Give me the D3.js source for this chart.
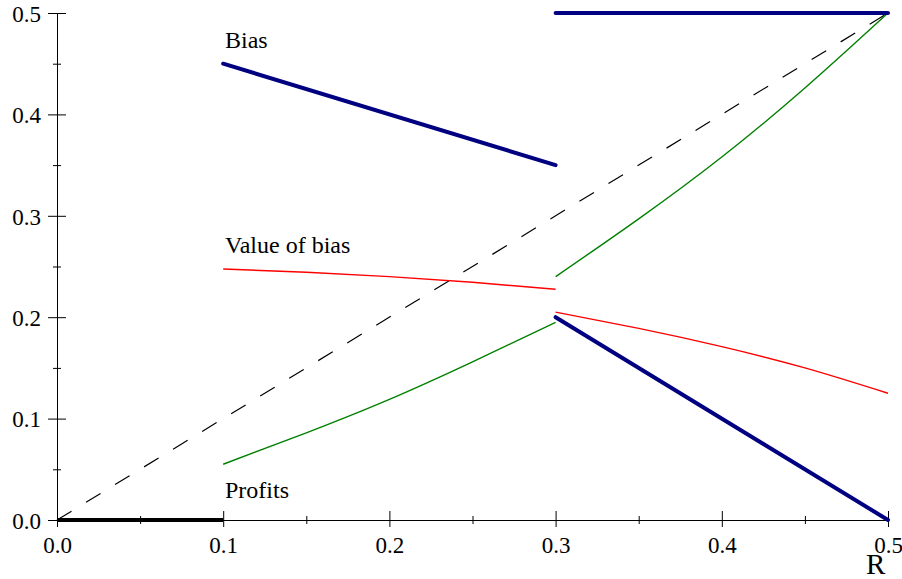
<!DOCTYPE html>
<html lang="en">
<head>
    <meta charset="UTF-8">
    <title>Bias and value of bias against R</title>
    <script src="https://cdn.jsdelivr.net/npm/d3@7"></script>
    <style>
        body { margin: 0; background: #fff; }
        svg text {
            font-family: "Liberation Serif", "Times New Roman", Times, serif;
            fill: #000;
        }
        .axis path, .axis line { stroke: #000; stroke-width: 1px; }
        .axis text { font-size: 23px; }
        .label { font-size: 24px; }
    </style>
</head>
<body>
    <svg width="902" height="579"></svg>

    <script>
        // Tick values
        const majorTicks = [0, 0.1, 0.2, 0.3, 0.4, 0.5];
        const minorTicks = [0.05, 0.15, 0.25, 0.35, 0.45];

        // Diagonal reference (dashed)
        const diagonal = [[0, 0], [0.5, 0.5]];

        // Bias (thick navy)
        const biasLow = [[0.1, 0.45], [0.3, 0.35]];
        const biasHigh = [[0.3, 0.5], [0.5, 0.5]];

        // Profits
        const profitsZero = [[0, 0], [0.1, 0]];
        const profitsHigh = [[0.3, 0.2], [0.5, 0]];

        // Value of bias (red)
        const valueLow = [[0.1, 0.2475], [0.15, 0.2444], [0.2, 0.24], [0.25, 0.2344], [0.3, 0.2275]];
        const valueHigh = [[0.3, 0.205], [0.35, 0.189], [0.4, 0.171], [0.45, 0.150], [0.5, 0.125]];

        // Green curves
        const greenLow = [[0.1, 0.055], [0.15, 0.086], [0.2, 0.119], [0.25, 0.156], [0.3, 0.195]];
        const greenHigh = [[0.3, 0.240], [0.35, 0.297], [0.4, 0.358], [0.45, 0.426], [0.5, 0.5]];

        const svg = d3.select("svg");

        const x = d3.scaleLinear().domain([0, 0.5]).range([57, 888]);
        const y = d3.scaleLinear().domain([0, 0.5]).range([520, 13]);
        const fmt = d3.format(".1f");
        const serif = '"Liberation Serif", "Times New Roman", Times, serif';

        // X axis
        const xAxis = svg.append("g")
            .attr("class", "axis")
            .attr("font-family", serif)
            .attr("transform", `translate(0,${y(0)})`)
            .call(d3.axisBottom(x).tickValues(majorTicks).tickFormat(fmt).tickSizeOuter(0).tickPadding(0));
        xAxis.selectAll(".tick line").attr("y1", -9).attr("y2", 7);
        xAxis.selectAll(".tick text").attr("y", 33).attr("dy", null);

        svg.append("g")
            .attr("class", "axis")
            .attr("transform", `translate(0,${y(0)})`)
            .call(d3.axisBottom(x).tickValues(minorTicks).tickFormat("").tickSizeOuter(0))
            .call(g => g.select(".domain").remove())
            .selectAll(".tick line").attr("y1", -4).attr("y2", 4);

        // Y axis
        const yAxis = svg.append("g")
            .attr("class", "axis")
            .attr("font-family", serif)
            .attr("transform", `translate(${x(0)},0)`)
            .call(d3.axisLeft(y).tickValues(majorTicks).tickFormat(fmt).tickSizeOuter(0).tickPadding(0));
        yAxis.selectAll(".tick line").attr("x1", -9).attr("x2", 9);
        yAxis.selectAll(".tick text").attr("x", -16).attr("dy", "0.36em");

        svg.append("g")
            .attr("class", "axis")
            .attr("transform", `translate(${x(0)},0)`)
            .call(d3.axisLeft(y).tickValues(minorTicks).tickFormat("").tickSizeOuter(0))
            .call(g => g.select(".domain").remove())
            .selectAll(".tick line").attr("x1", -4).attr("x2", 4);

        const line = d3.line().x(d => x(d[0])).y(d => y(d[1]));
        const curve = d3.line().x(d => x(d[0])).y(d => y(d[1])).curve(d3.curveNatural);

        // Dashed diagonal
        svg.append("path")
            .attr("d", line(diagonal))
            .attr("fill", "none")
            .attr("stroke", "#000")
            .attr("stroke-width", 1.2)
            .attr("stroke-dasharray", "17,17");

        // Red and green curves
        [valueLow, valueHigh].forEach(s => {
            svg.append("path")
                .attr("d", curve(s))
                .attr("fill", "none")
                .attr("stroke", "#ff0000")
                .attr("stroke-width", 1.4);
        });
        [greenLow, greenHigh].forEach(s => {
            svg.append("path")
                .attr("d", curve(s))
                .attr("fill", "none")
                .attr("stroke", "#008000")
                .attr("stroke-width", 1.4);
        });

        // Thick lines
        svg.append("path")
            .attr("d", line(profitsZero))
            .attr("fill", "none")
            .attr("stroke", "#000")
            .attr("stroke-width", 4);

        [biasLow, biasHigh, profitsHigh].forEach(s => {
            svg.append("path")
                .attr("d", line(s))
                .attr("fill", "none")
                .attr("stroke", "#000080")
                .attr("stroke-width", 4)
                .attr("stroke-linecap", "round");
        });

        // Text labels
        const labels = [["Bias", 48], ["Value of bias", 253], ["Profits", 498]];
        labels.forEach(([t, ty]) => {
            svg.append("text").attr("class", "label")
                .attr("font-family", serif)
                .attr("x", 225).attr("y", ty).text(t);
        });
        svg.append("text")
            .attr("font-family", serif)
            .attr("x", 866).attr("y", 574)
            .style("font-size", "29px").text("R");
    </script>
</body>
</html>
